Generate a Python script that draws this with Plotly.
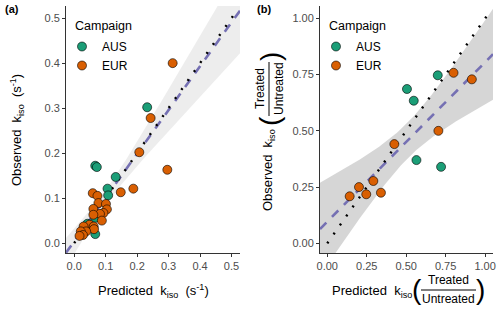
"""Observed vs predicted k_iso, two panels (a) absolute, (b) treated/untreated ratio."""
import numpy as np
import plotly.graph_objects as go
from plotly.subplots import make_subplots

# ---- panel (a) data: predicted vs observed k_iso (s^-1)
aus_a_pred = [0.232, 0.067, 0.072, 0.132, 0.106, 0.108, 0.067, 0.042, 0.067]
aus_a_obs = [0.302, 0.172, 0.169, 0.147, 0.121, 0.106, 0.056, 0.043, 0.020]
eur_a_pred = [0.313, 0.243, 0.207, 0.296, 0.148, 0.188, 0.059, 0.074, 0.077, 0.101,
              0.061, 0.104, 0.093, 0.082, 0.061, 0.088, 0.049, 0.030, 0.062, 0.063,
              0.038, 0.021, 0.028, 0.017]
eur_a_obs = [0.400, 0.278, 0.202, 0.163, 0.113, 0.121, 0.111, 0.105, 0.089, 0.087,
             0.076, 0.075, 0.067, 0.065, 0.063, 0.050, 0.041, 0.037, 0.037, 0.031,
             0.026, 0.026, 0.018, 0.016]

# ---- panel (b) data: treated/untreated ratios
aus_b_pred = [0.700, 0.505, 0.548, 0.565, 0.721]
aus_b_obs = [0.747, 0.686, 0.634, 0.370, 0.340]
eur_b_pred = [0.800, 0.916, 0.704, 0.425, 0.142, 0.201, 0.247, 0.292, 0.340]
eur_b_obs = [0.758, 0.729, 0.500, 0.441, 0.209, 0.250, 0.218, 0.277, 0.225]

ticks_a = [0, 0.1, 0.2, 0.3, 0.4, 0.5]
ticks_b = [0, 0.25, 0.5, 0.75, 1.0]

AUS_COLOR = '#1B9E77'
EUR_COLOR = '#D95F02'
FIT_COLOR = '#7570B3'
FONT = 'Liberation Sans, Arial, sans-serif'
W, H = 500, 312


def px(xp):
    """window pixel x -> paper fraction"""
    return xp / W


def py(yp):
    """window pixel y (from top) -> paper fraction"""
    return 1 - yp / H


def lm_band(x, y, x_grid, t_crit):
    """lm fit with 95% confidence band, like geom_smooth(method='lm', fullrange=TRUE)"""
    x = np.asarray(x)
    y = np.asarray(y)
    slope, intercept = np.polyfit(x, y, 1)
    resid = y - (slope * x + intercept)
    n = len(x)
    s = np.sqrt(np.sum(resid ** 2) / (n - 2))
    sxx = np.sum((x - x.mean()) ** 2)
    fit = slope * x_grid + intercept
    se = s * np.sqrt(1 / n + (x_grid - x.mean()) ** 2 / sxx)
    return fit, fit - t_crit * se, fit + t_crit * se


fig = make_subplots(rows=1, cols=2)

panels = [
    (1, aus_a_pred, aus_a_obs, eur_a_pred, eur_a_obs, [-0.026, 0.527],
     0.52, 2.02, 'rgba(153,153,153,0.18)', 'legend'),
    (2, aus_b_pred, aus_b_obs, eur_b_pred, eur_b_obs, [-0.046, 1.05],
     1.04, 2.18, 'rgba(153,153,153,0.4)', 'legend2'),
]

for col, ap, ao, ep, eo, xr, id_max, t_crit, band_fill, leg in panels:
    all_x = ap + ep
    all_y = ao + eo
    x_grid = np.linspace(xr[0], xr[1], 80)
    fit, lo, hi = lm_band(all_x, all_y, x_grid, t_crit)

    fig.add_trace(go.Scatter(x=np.concatenate([x_grid, x_grid[::-1]]),
                             y=np.concatenate([hi, lo[::-1]]),
                             fill='toself', fillcolor=band_fill, line_width=0,
                             hoverinfo='skip', showlegend=False), row=1, col=col)
    fig.add_trace(go.Scatter(x=x_grid, y=fit, mode='lines',
                             line=dict(color=FIT_COLOR, width=2.6, dash='9px,8px'),
                             showlegend=False), row=1, col=col)
    fig.add_trace(go.Scatter(x=[0, id_max], y=[0, id_max], mode='lines',
                             line=dict(color='black', width=2.4, dash='2px,9px'),
                             showlegend=False), row=1, col=col)
    fig.add_trace(go.Scatter(x=ap, y=ao, mode='markers', name='AUS', legend=leg,
                             marker=dict(size=9, color=AUS_COLOR,
                                         line=dict(color='black', width=0.6))),
                  row=1, col=col)
    fig.add_trace(go.Scatter(x=ep, y=eo, mode='markers', name='EUR', legend=leg,
                             marker=dict(size=9, color=EUR_COLOR,
                                         line=dict(color='black', width=0.6))),
                  row=1, col=col)

axis_common = dict(showgrid=False, zeroline=False, showline=True, linecolor='#333333',
                   linewidth=0.9, ticks='outside', ticklen=3, tickcolor='#333333',
                   tickfont=dict(size=11, color='#4D4D4D'), automargin=False)

fig.update_xaxes(axis_common)
fig.update_yaxes(axis_common)

y_domain = [py(253), py(6)]
fig.update_xaxes(domain=[px(66), px(240)], range=[-0.026, 0.527], tickvals=ticks_a,
                 tickformat='.1f', row=1, col=1)
fig.update_yaxes(domain=y_domain, range=[-0.022, 0.527], tickvals=ticks_a,
                 tickformat='.1f', row=1, col=1)
fig.update_xaxes(domain=[px(320), px(493)], range=[-0.046, 1.05], tickvals=ticks_b,
                 tickformat='.2f', row=1, col=2)
fig.update_yaxes(domain=y_domain, range=[-0.043, 1.055], tickvals=ticks_b,
                 tickformat='.2f', row=1, col=2)

title_font = dict(size=13, color='black', family=FONT)
frac_font = dict(size=12, color='black', family=FONT)
paren_font = dict(size=28, color='black', family=FONT)

annotations = [
    # panel tags
    dict(text='<b>(a)</b>', x=px(12), y=py(9), font=dict(size=11, color='black')),
    dict(text='<b>(b)</b>', x=px(264), y=py(9), font=dict(size=11, color='black')),
    # legend titles
    dict(text='Campaign', x=px(73), y=py(26), xanchor='left', font=dict(title_font, size=12.5)),
    dict(text='Campaign', x=px(327), y=py(26), xanchor='left', font=dict(title_font, size=12.5)),
    # panel (a) axis titles
    dict(text='Predicted  k<sub>iso</sub>  (s<sup>-1</sup>)', x=px(153), y=py(291),
         font=title_font),
    dict(text='Observed  k<sub>iso</sub>  (s<sup>-1</sup>)', x=px(17), y=py(130),
         textangle=-90, font=title_font),
    # panel (b) x title with fraction
    dict(text='Predicted  k<sub>iso</sub>', x=px(372), y=py(291), font=title_font),
    dict(text='Treated', x=px(448), y=py(280), font=frac_font),
    dict(text='Untreated', x=px(448), y=py(299), font=frac_font),
    dict(text='(', x=px(417), y=py(289), font=paren_font),
    dict(text=')', x=px(480), y=py(289), font=paren_font),
    # panel (b) y title with fraction
    dict(text='Observed  k<sub>iso</sub>', x=px(269), y=py(170), textangle=-90, font=title_font),
    dict(text='Treated', x=px(260), y=py(89), textangle=-90, font=frac_font),
    dict(text='Untreated', x=px(279), y=py(89), textangle=-90, font=frac_font),
    dict(text='(', x=px(270), y=py(121), textangle=-90, font=paren_font),
    dict(text=')', x=px(270), y=py(57), textangle=-90, font=paren_font),
]
for a in annotations:
    a.setdefault('xanchor', 'center')
    a.update(xref='paper', yref='paper', showarrow=False, yanchor='middle')

shapes = [
    # fraction bars
    dict(type='line', xref='paper', yref='paper', x0=px(421), x1=px(476), y0=py(290), y1=py(290),
         line=dict(color='black', width=1)),
    dict(type='line', xref='paper', yref='paper', x0=px(269), x1=px(269), y0=py(62), y1=py(116),
         line=dict(color='black', width=1)),
]

legend_style = dict(bgcolor='rgba(0,0,0,0)', xanchor='left', yanchor='top',
                    font=dict(size=12, color='black'), itemwidth=30, tracegroupgap=0)

fig.update_layout(
    width=W, height=H,
    margin=dict(l=0, r=0, t=0, b=0),
    plot_bgcolor='white', paper_bgcolor='white',
    font=dict(family=FONT),
    showlegend=True,
    legend=dict(legend_style, x=px(62), y=py(32)),
    legend2=dict(legend_style, x=px(316), y=py(32)),
    annotations=annotations,
    shapes=shapes,
)

# the page body has a default 8px margin; drop it so the figure sits in the window corner
fig.write_html("out.html", config={'displayModeBar': False},
               post_script="document.body.style.margin = '0px';")
